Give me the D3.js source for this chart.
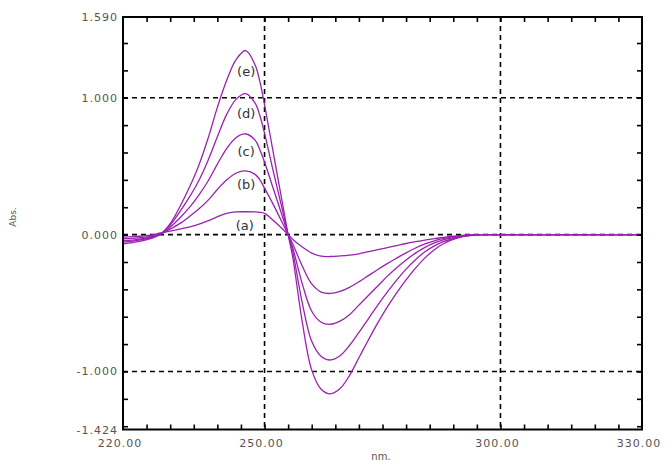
<!DOCTYPE html>
<html>
<head>
<meta charset="utf-8">
<script src="https://cdn.jsdelivr.net/npm/d3@7"></script>
<style>
  body { margin: 0; background: #fff; }
  svg { display: block; }
</style>
</head>
<body>
<svg id="chart" width="665" height="462"></svg>
<script>
// wavelengths (nm) shared by all curves
var wavelengths = [220,222,224,226,228,230,232,234,236,238,240,242,244,246,248,249,250,252,254,255,256,258,260,262,264,266,268,270,272,274,276,278,280,282,284,286,288,290,292,294,296,300,310,320,330];

var serieA = [-0.018,-0.015,-0.010,-0.004,0.012,0.025,0.040,0.055,0.075,0.100,0.130,0.155,0.166,0.167,0.166,0.163,0.155,0.100,0.035,0.0,-0.035,-0.090,-0.135,-0.158,-0.160,-0.156,-0.150,-0.140,-0.125,-0.110,-0.095,-0.080,-0.065,-0.052,-0.040,-0.030,-0.020,-0.012,-0.005,-0.001,0,0,0,0,0];
var serieB = [-0.030,-0.027,-0.020,-0.012,0.010,0.040,0.080,0.130,0.185,0.250,0.330,0.400,0.450,0.465,0.440,0.400,0.340,0.210,0.070,0.0,-0.070,-0.230,-0.360,-0.420,-0.430,-0.415,-0.385,-0.345,-0.300,-0.255,-0.212,-0.172,-0.133,-0.098,-0.068,-0.045,-0.028,-0.016,-0.008,-0.002,0,0,0,0,0];
var serieC = [-0.045,-0.040,-0.030,-0.018,0.005,0.055,0.120,0.195,0.285,0.390,0.515,0.630,0.710,0.735,0.690,0.620,0.530,0.320,0.110,0.0,-0.100,-0.360,-0.560,-0.640,-0.655,-0.632,-0.585,-0.515,-0.445,-0.375,-0.305,-0.242,-0.185,-0.135,-0.093,-0.061,-0.037,-0.022,-0.010,-0.003,0,0,0,0,0];
var serieD = [-0.055,-0.048,-0.037,-0.022,0.005,0.070,0.165,0.270,0.390,0.540,0.715,0.880,0.990,1.030,0.960,0.870,0.740,0.440,0.150,0.0,-0.130,-0.500,-0.780,-0.890,-0.916,-0.885,-0.810,-0.715,-0.615,-0.515,-0.420,-0.332,-0.252,-0.183,-0.125,-0.082,-0.050,-0.030,-0.013,-0.004,0,0,0,0,0];
var serieE = [-0.068,-0.058,-0.045,-0.027,0.005,0.080,0.200,0.340,0.500,0.700,0.930,1.130,1.280,1.345,1.240,1.120,0.950,0.570,0.190,0.0,-0.170,-0.640,-0.990,-1.130,-1.164,-1.125,-1.030,-0.900,-0.770,-0.645,-0.530,-0.425,-0.330,-0.245,-0.170,-0.110,-0.065,-0.035,-0.015,-0.005,0,0,0,0,0];

var curveNames = ["(a)","(b)","(c)","(d)","(e)"];
var curveLabelPos = [[245.8,0.037],[246.1,0.33],[246.1,0.574],[246.1,0.855],[246.1,1.158]];

var yTickValues = [1.59, 1, 0, -1, -1.424];
var yTickLabels = ["1.590","1.000","0.000","-1.000","-1.424"];
var xTickValues = [220, 250, 300, 330];
var xTickLabels = ["220.00","250.00","300.00","330.00"];
var yGrid = [-1, 0, 1];
var xGrid = [250, 300];

var svg = d3.select("#chart"),
    plotL = 123, plotR = 642, plotT = 17, plotB = 429.5,
    purple = "#9a22b0";

var x = d3.scaleLinear().domain([220, 330]).range([plotL, plotR]);
var y = d3.scaleLinear().domain([-1.424, 1.59]).range([plotB, plotT]);

// dashed grid
svg.selectAll(".gy").data(yGrid).enter().append("line")
    .attr("x1", plotL).attr("x2", plotR)
    .attr("y1", d => y(d)).attr("y2", d => y(d))
    .attr("stroke", "#000").attr("stroke-width", 1.6)
    .attr("stroke-dasharray", "5,4");
svg.selectAll(".gx").data(xGrid).enter().append("line")
    .attr("y1", plotT).attr("y2", plotB)
    .attr("x1", d => x(d)).attr("x2", d => x(d))
    .attr("stroke", "#000").attr("stroke-width", 1.6)
    .attr("stroke-dasharray", "5,4");

// curves
var series = [serieA, serieB, serieC, serieD, serieE];
var line = d3.line()
    .x((d, i) => x(wavelengths[i]))
    .y(d => y(d))
    .curve(d3.curveCatmullRom.alpha(0.5));

svg.selectAll(".curva").data(series).enter().append("path")
    .attr("d", d => line(d))
    .attr("fill", "none")
    .attr("stroke", purple)
    .attr("stroke-width", 1.3);

// frame with inward ticks, four sides
var minorX = d3.range(225, 330, 5);
var minorY = d3.range(-1.4, 1.59, 0.2);

svg.append("g").attr("transform", `translate(0,${plotB})`)
    .call(d3.axisTop(x).tickValues(minorX).tickSize(5).tickFormat(""));
svg.append("g").attr("transform", `translate(0,${plotT})`)
    .call(d3.axisBottom(x).tickValues(minorX).tickSize(5).tickFormat(""));
svg.append("g").attr("transform", `translate(${plotL},0)`)
    .call(d3.axisRight(y).tickValues(minorY).tickSize(5).tickFormat(""));
svg.append("g").attr("transform", `translate(${plotR},0)`)
    .call(d3.axisLeft(y).tickValues(minorY).tickSize(5).tickFormat(""));

svg.selectAll(".domain").remove();
svg.selectAll(".tick line").attr("stroke", "#000").attr("stroke-width", 1.6);

svg.append("rect")
    .attr("x", plotL).attr("y", plotT)
    .attr("width", plotR - plotL).attr("height", plotB - plotT)
    .attr("fill", "none").attr("stroke", "#000").attr("stroke-width", 2);

// tick labels
svg.selectAll(".ly").data(yTickValues).enter().append("text")
    .attr("x", plotL - 5)
    .attr("y", d => y(d) + 4)
    .attr("text-anchor", "end")
    .attr("font-family", "DejaVu Sans")
    .attr("font-size", "11px")
    .attr("letter-spacing", "1px")
    .attr("fill", "#555")
    .text((d, i) => yTickLabels[i]);

svg.selectAll(".lx").data(xTickValues).enter().append("text")
    .attr("x", d => x(d) - 3)
    .attr("y", 447)
    .attr("text-anchor", "middle")
    .attr("font-family", "DejaVu Sans")
    .attr("font-size", "11px")
    .attr("letter-spacing", "1px")
    .attr("fill", "#555")
    .text((d, i) => xTickLabels[i]);

// axis titles
svg.append("text")
    .attr("transform", "translate(16,217) rotate(-90)")
    .attr("text-anchor", "middle")
    .attr("font-family", "DejaVu Sans")
    .attr("font-size", "9px")
    .attr("fill", "#555")
    .text("Abs.");

svg.append("text")
    .attr("x", 381).attr("y", 460)
    .attr("text-anchor", "middle")
    .attr("font-family", "DejaVu Sans")
    .attr("font-size", "10px")
    .attr("fill", "#555")
    .text("nm.");

// curve labels
svg.selectAll(".lc").data(curveNames).enter().append("text")
    .attr("x", (d, i) => x(curveLabelPos[i][0]))
    .attr("y", (d, i) => y(curveLabelPos[i][1]))
    .attr("text-anchor", "middle")
    .attr("font-family", "DejaVu Sans")
    .attr("font-size", "13px")
    .attr("fill", "#333")
    .text(d => d);
</script>
</body>
</html>
